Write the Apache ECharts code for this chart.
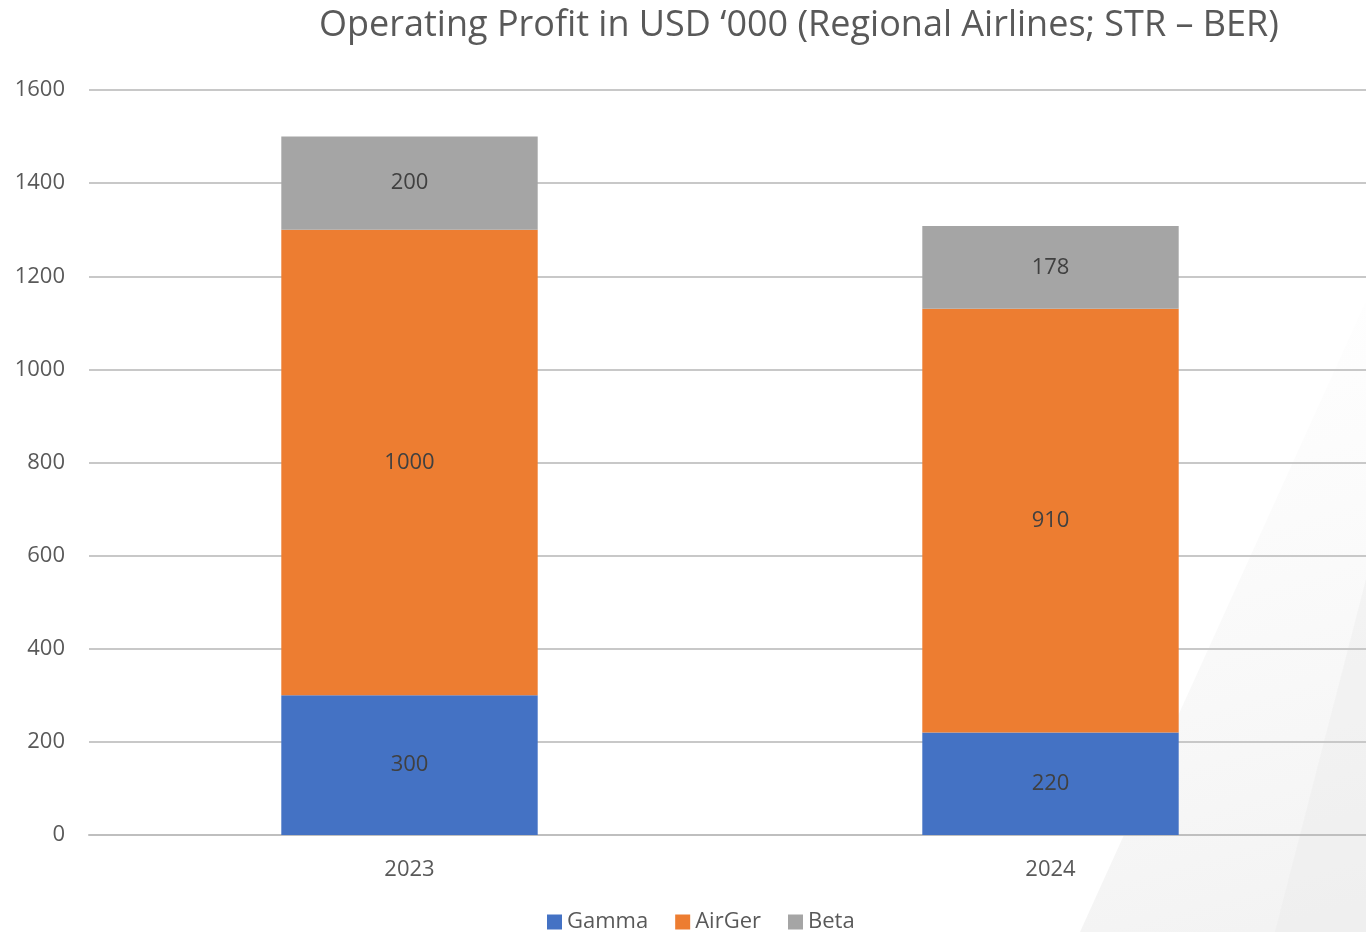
<!DOCTYPE html>
<html>
<head>
<meta charset="utf-8">
<script src="https://cdn.jsdelivr.net/npm/echarts@6/dist/echarts.min.js"></script>
<style>
  html, body { margin: 0; padding: 0; background: #fff; overflow: hidden; }
  #chart { width: 1371px; height: 932px; }
</style>
</head>
<body>
<div id="chart"></div>
<script>
// data
var years = ["2023", "2024"];
var gamma = [300, 220];
var airGer = [1000, 910];
var beta = [200, 178];
var yTicks = [0, 200, 400, 600, 800, 1000, 1200, 1400, 1600];

var font = "'Open Sans', 'Liberation Sans', sans-serif";
var myChart = echarts.init(document.getElementById("chart"));

function barSeries(name, values, color) {
    return {
        name: name,
        type: 'bar',
        stack: 'total',
        barWidth: '40%',
        data: values,
        itemStyle: {color: color},
        label: {
            show: true,
            position: 'inside',
            color: '#404040',
            fontFamily: font,
            fontSize: 22
        },
        emphasis: {disabled: true}
    };
}

var option = {
    animation: false,
    backgroundColor: '#ffffff',
    title: {
        text: 'Operating Profit in USD \u2018000 (Regional Airlines; STR \u2013 BER)',
        left: 794,
        textAlign: 'center',
        top: 3,
        textStyle: {
            color: '#595959',
            fontFamily: font,
            fontWeight: 'normal',
            fontSize: 36
        }
    },
    // faint decorative diagonal shapes at bottom right
    graphic: [
        {type: 'polygon', z: -10, silent: true,
            shape: {points: [[1371, 290], [1371, 932], [1080, 932]]},
            style: {fill: new echarts.graphic.LinearGradient(0, 0, 0.6, 1, [
                {offset: 0, color: 'rgba(245,245,245,0)'},
                {offset: 1, color: 'rgba(240,240,240,0.8)'}])}},
        {type: 'polygon', z: -9, silent: true,
            shape: {points: [[1371, 560], [1371, 932], [1275, 932]]},
            style: {fill: 'rgba(232,232,232,0.35)'}}
    ],
    legend: {
        data: ['Gamma', 'AirGer', 'Beta'],
        bottom: -6,
        left: 542,
        itemWidth: 15,
        itemHeight: 15,
        itemGap: 27,
        icon: 'rect',
        textStyle: {color: '#595959', fontFamily: font, fontSize: 22}
    },
    grid: {left: 89, right: 0, top: 90, bottom: 97, containLabel: false},
    xAxis: {
        type: 'category',
        data: years,
        axisLine: {lineStyle: {color: '#bfbfbf', width: 2}},
        axisTick: {show: false},
        axisLabel: {color: '#595959', fontFamily: font, fontSize: 22, margin: 24}
    },
    yAxis: {
        type: 'value',
        min: yTicks[0],
        max: yTicks[yTicks.length - 1],
        interval: 200,
        axisLine: {show: false},
        axisTick: {show: false},
        axisLabel: {
            color: '#595959', fontFamily: font, fontSize: 22, margin: 24,
            formatter: function (v) { return String(v); }
        },
        splitLine: {lineStyle: {color: '#c8c8c8', width: 2}}
    },
    series: [
        barSeries('Gamma', gamma, '#4472c4'),
        barSeries('AirGer', airGer, '#ed7d31'),
        barSeries('Beta', beta, '#a5a5a5')
    ]
};

if (option && typeof option === "object") {
    myChart.setOption(option, true);
}
</script>
</body>
</html>
